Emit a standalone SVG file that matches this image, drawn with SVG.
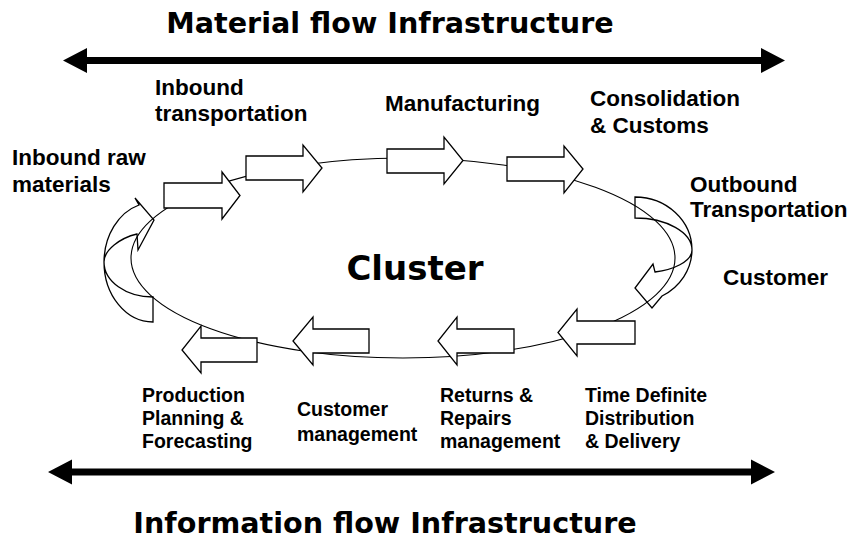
<svg xmlns="http://www.w3.org/2000/svg" width="854" height="544" viewBox="0 0 854 544">
  <style>
    .title { font-family: "DejaVu Sans", Verdana, sans-serif; font-weight: bold; font-size: 28.6px; fill: #000; }
    .big { font-family: "DejaVu Sans", Verdana, sans-serif; font-weight: bold; font-size: 34px; fill: #000; }
    .lbl { font-family: "Liberation Sans", Arial, sans-serif; font-weight: bold; font-size: 22.5px; fill: #000; }
    .lbl2 { font-family: "Liberation Sans", Arial, sans-serif; font-weight: bold; font-size: 19.5px; fill: #000; }
    .blk { fill: #fff; stroke: #000; stroke-width: 1.3; stroke-linejoin: miter; }
    .ring { fill: none; stroke: #000; stroke-width: 1.1; }
    .bar { fill: #000; }
  </style>

  <rect width="854" height="544" fill="#fff"/>

  <!-- infrastructure bars -->
  <g id="material-flow">
    <path class="bar" d="M63,60.5 L87,48 L87,57 L761,57 L761,48 L785,60.5 L761,73 L761,64 L87,64 L87,73 Z"/>
    <text class="title" x="390" y="33" text-anchor="middle">Material flow Infrastructure</text>
  </g>
  <g id="information-flow">
    <path class="bar" d="M48,472 L72,459.5 L72,468.5 L751,468.5 L751,459.5 L775,472 L751,484.5 L751,475.5 L72,475.5 L72,484.5 Z"/>
    <text class="title" x="385" y="533" text-anchor="middle">Information flow Infrastructure</text>
  </g>

  <!-- curved turn arrows at both ends of the loop -->
  <g id="turn-left">
    <path class="blk" d="M153,297 L153,322 A49,60 0 0 1 104,262 A49,60 0 0 1 139,205 L135,198 L154,220 L138,250 L137,234 C120,238 104,250 104,262 A49,35 0 0 0 153,297 Z"/>
  </g>
  <g id="turn-right">
    <path class="blk" d="M635,218 L635,197 A57,53 0 0 1 692,250 A57,53 0 0 1 662,296 L652,308 L635,288 L653,264 L655,272 C672,270 692,262 692,250 A57,32 0 0 0 635,218 Z"/>
  </g>

  <!-- connectors: the cluster loop -->
  <g id="connectors">
    <ellipse class="ring" cx="403" cy="258" rx="272" ry="100"/>
  </g>

  <!-- forward (material) steps -->
  <g id="step-inbound-raw">
    <path class="blk" d="M164,183 L222,183 L222,172 L240,195.5 L222,219 L222,208 L164,208 Z"/>
    <text class="lbl" x="12" y="165">Inbound raw</text>
    <text class="lbl" x="12" y="192">materials</text>
  </g>
  <g id="step-inbound-transport">
    <path class="blk" d="M246,156 L303,156 L303,145 L322,168 L303,192 L303,180 L246,180 Z"/>
    <text class="lbl" x="155" y="95">Inbound</text>
    <text class="lbl" x="155" y="121">transportation</text>
  </g>
  <g id="step-manufacturing">
    <path class="blk" d="M387,149 L444,149 L444,137 L463,160.5 L444,184 L444,173 L387,173 Z"/>
    <text class="lbl" x="385" y="111">Manufacturing</text>
  </g>
  <g id="step-consolidation">
    <path class="blk" d="M507,157 L564,157 L564,146 L583,169 L564,193 L564,181 L507,181 Z"/>
    <text class="lbl" x="590" y="106">Consolidation</text>
    <text class="lbl" x="590" y="133">&amp; Customs</text>
  </g>
  <g id="step-outbound">
    <text class="lbl" x="690" y="192">Outbound</text>
    <text class="lbl" x="690" y="217">Transportation</text>
  </g>
  <g id="step-customer">
    <text class="lbl" x="723" y="285">Customer</text>
  </g>

  <!-- return (information) steps -->
  <g id="step-delivery">
    <path class="blk" d="M635,321 L577,321 L577,309 L558,332.5 L577,356 L577,344 L635,344 Z"/>
    <text class="lbl2" x="585" y="402">Time Definite</text>
    <text class="lbl2" x="585" y="425">Distribution</text>
    <text class="lbl2" x="585" y="448">&amp; Delivery</text>
  </g>
  <g id="step-returns">
    <path class="blk" d="M514,329 L457,329 L457,317 L438,341 L457,365 L457,353 L514,353 Z"/>
    <text class="lbl2" x="440" y="402">Returns &amp;</text>
    <text class="lbl2" x="440" y="425">Repairs</text>
    <text class="lbl2" x="440" y="448">management</text>
  </g>
  <g id="step-customer-mgmt">
    <path class="blk" d="M369,329 L313,329 L313,317 L293,341 L313,365 L313,353 L369,353 Z"/>
    <text class="lbl2" x="297" y="416">Customer</text>
    <text class="lbl2" x="297" y="441">management</text>
  </g>
  <g id="step-planning">
    <path class="blk" d="M257,338 L201,338 L201,326 L182,350 L201,373 L201,362 L257,362 Z"/>
    <text class="lbl2" x="142" y="402">Production</text>
    <text class="lbl2" x="142" y="425">Planning &amp;</text>
    <text class="lbl2" x="142" y="448">Forecasting</text>
  </g>

  <g id="cluster-label">
    <text class="big" x="415" y="280" text-anchor="middle">Cluster</text>
  </g>
</svg>
